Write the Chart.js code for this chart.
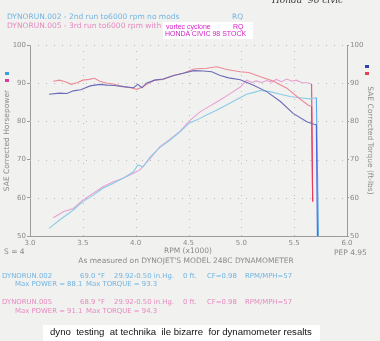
<!DOCTYPE html>
<html><head><meta charset="utf-8">
<script src="https://cdn.jsdelivr.net/npm/chart.js@4.4.0/dist/chart.umd.min.js"></script>
<style>
html,body{margin:0;padding:0;}
body{width:380px;height:341px;background:#f1f1ef;position:relative;overflow:hidden;font-family:"DejaVu Sans",sans-serif;}
canvas{position:absolute;left:0;top:0;}
.t{position:absolute;white-space:pre;font-size:7.5px;line-height:1;}
.s{font-size:6.9px}
.g{color:#8a8a8a}
.b{color:#72b4e2}
.p{color:#e68ac0}
.m{color:#d41ec8;font-family:"Liberation Sans",Arial,sans-serif;font-size:7px}
.sq{position:absolute;width:4px;height:3px;}
</style></head>
<body>
<canvas id="c" width="380" height="341"></canvas>

<div class="t" style="left:272px;top:-4px;font-family:'DejaVu Serif',serif;font-style:italic;font-size:9px;color:#3a3a3a">Honda  96 civic</div>
<div class="t b" style="left:7px;top:13px">DYNORUN.002 - 2nd run to6000 rpm no mods</div>
<div class="t b" style="left:232px;top:13px">RQ</div>
<div class="t p" style="left:7px;top:22px">DYNORUN.005 - 3rd run to6000 rpm with</div>
<div style="position:absolute;left:163px;top:22px;width:90px;height:17px;background:#fff"></div>
<div class="t m" style="left:166px;top:22.5px">vortec cyclone</div>
<div class="t m" style="left:233px;top:23px">RQ</div>
<div class="t m" style="left:165px;top:30.3px">HONDA CIVIC 98 STOCK</div>

<div class="sq" style="left:5px;top:72px;background:#3c9ee0"></div>
<div class="sq" style="left:5px;top:79px;background:#e03c9e"></div>
<div class="sq" style="left:365px;top:65px;background:#3440b0"></div>
<div class="sq" style="left:365px;top:72px;background:#e04452"></div>

<div class="t g" style="left:4px;top:248px">S = 4</div>
<div class="t g" style="left:188px;top:247px;transform:translateX(-50%)">RPM (x1000)</div>
<div class="t g" style="left:334px;top:249px">PEP 4.95</div>
<div class="t g" style="left:186px;top:256.5px;transform:translateX(-50%)">As measured on DYNOJET'S MODEL 248C DYNAMOMETER</div>

<div class="t s b" style="left:2px;top:273px">DYNORUN.002</div>
<div class="t s b" style="left:80px;top:273px">69.0 °F</div>
<div class="t s b" style="left:114px;top:273px">29.92-0.50 in.Hg.</div>
<div class="t s b" style="left:183px;top:273px">0 ft.</div>
<div class="t s b" style="left:207px;top:273px">CF=0.98</div>
<div class="t s b" style="left:245px;top:273px">RPM/MPH=57</div>
<div class="t s b" style="left:15px;top:280.5px">Max POWER = 88.1</div>
<div class="t s b" style="left:86px;top:280.5px">Max TORQUE = 93.3</div>

<div class="t s p" style="left:2px;top:299px">DYNORUN.005</div>
<div class="t s p" style="left:80px;top:299px">68.9 °F</div>
<div class="t s p" style="left:114px;top:299px">29.92-0.50 in.Hg.</div>
<div class="t s p" style="left:183px;top:299px">0 ft.</div>
<div class="t s p" style="left:207px;top:299px">CF=0.98</div>
<div class="t s p" style="left:245px;top:299px">RPM/MPH=57</div>
<div class="t s p" style="left:15px;top:307.5px">Max POWER = 91.1</div>
<div class="t s p" style="left:86px;top:307.5px">Max TORQUE = 94.3</div>

<div style="position:absolute;left:43px;top:325px;width:277px;height:16px;background:#fff"></div>
<div class="t" style="left:50px;top:327px;font-family:'Liberation Sans',Arial,sans-serif;font-size:9.6px;color:#111">dyno  testing  at technika  ile bizarre  for dynamometer resalts</div>

<script>
// ---- data ----
const xTicks = [3.0, 3.5, 4.0, 4.5, 5.0, 5.5, 6.0];
const yTicks = [50, 60, 70, 80, 90, 100];

// Run 002 horsepower (light blue)
const rpmHp002 = [3.18,3.28,3.41,3.50,3.60,3.69,3.79,3.88,3.98,4.02,4.07,4.14,4.23,4.32,4.42,4.51,4.58,4.67,4.77,4.86,4.96,5.05,5.12,5.18,5.27,5.37,5.46,5.55,5.65,5.71,5.73];
const hp002    = [52.0,54.2,56.8,59.0,60.7,62.5,63.8,65.1,66.8,68.6,68.1,70.8,73.2,75.0,77.3,79.6,80.4,81.7,83.0,84.3,85.8,87.1,87.6,88.1,87.8,87.1,86.5,86.2,85.9,86.2,50.0];

// Run 005 horsepower (pink)
const rpmHp005 = [3.22,3.32,3.41,3.50,3.60,3.69,3.79,3.88,3.98,4.04,4.14,4.23,4.32,4.42,4.51,4.61,4.70,4.80,4.89,4.99,5.05,5.10,5.14,5.19,5.24,5.29,5.33,5.38,5.43,5.48,5.52,5.57,5.62,5.665,5.675];
const hp005    = [54.8,56.4,57.2,59.4,61.2,62.9,64.2,65.1,66.4,67.3,70.4,73.4,75.2,77.4,80.2,82.5,84.0,85.6,87.2,89.0,90.8,90.2,90.6,90.2,90.7,90.3,91.0,90.4,91.1,90.5,90.8,90.2,90.1,89.8,59.0];

// Run 002 torque (dark blue)
const rpmTq002 = [3.18,3.28,3.35,3.41,3.48,3.57,3.66,3.73,3.80,3.88,3.98,4.02,4.06,4.10,4.18,4.26,4.36,4.45,4.55,4.64,4.72,4.80,4.88,4.99,5.11,5.24,5.37,5.49,5.62,5.68,5.71,5.72];
const tq002    = [87.1,87.4,87.3,88.0,88.3,89.3,89.7,89.5,89.4,89.1,88.8,89.7,88.8,90.0,90.8,91.1,92.0,92.6,93.3,93.2,93.0,92.0,91.4,90.9,89.5,87.8,85.2,82.1,79.9,79.3,79.1,50.0];

// Run 005 torque (red)
const rpmTq005 = [3.22,3.28,3.34,3.39,3.45,3.50,3.56,3.61,3.66,3.73,3.79,3.85,3.95,4.01,4.07,4.12,4.18,4.26,4.36,4.45,4.55,4.67,4.77,4.86,4.99,5.07,5.18,5.30,5.43,5.55,5.63,5.665,5.675];
const tq005    = [90.5,90.8,90.3,89.7,90.2,90.8,91.0,91.3,90.5,90.0,89.8,89.3,88.8,88.4,89.1,90.0,90.8,91.0,92.0,92.6,93.7,93.9,94.3,93.6,93.0,92.8,91.7,90.6,88.7,86.0,84.3,83.9,59.0];

function pts(xs, ys){ return xs.map((x,i)=>({x:x, y:ys[i]})); }
function ds(xs, ys, color, dropColor, axis){
  const last = xs.length - 1;
  return {
    data: pts(xs, ys), yAxisID: axis, borderColor: color, borderWidth: 1.1,
    pointRadius: 0, tension: 0, fill: false,
    segment: { borderColor: c => c.p1DataIndex === last ? dropColor : color }
  };
}

// dotted grid drawn from the library's own scales
const dotGrid = {
  id: 'dotGrid',
  beforeDatasetsDraw(chart) {
    const {ctx, chartArea: a, scales} = chart;
    ctx.save();
    ctx.strokeStyle = '#bcbcbc';
    ctx.lineWidth = 1;
    ctx.setLineDash([1, 7]);
    xTicks.slice(1, -1).forEach(v => {
      const px = Math.round(scales.x.getPixelForValue(v)) + 0.5;
      ctx.beginPath(); ctx.moveTo(px, a.bottom); ctx.lineTo(px, a.top); ctx.stroke();
    });
    yTicks.slice(1).forEach(v => {
      const py = Math.round(scales.y.getPixelForValue(v)) + 0.5;
      ctx.beginPath(); ctx.moveTo(a.left, py); ctx.lineTo(a.right, py); ctx.stroke();
    });
    ctx.restore();
  }
};

const tickFont = {family: "DejaVu Sans", size: 7};
const tickColor = '#8a8a8a';

new Chart(document.getElementById('c'), {
  type: 'line',
  data: {
    datasets: [
      ds(rpmTq002, tq002, '#6a6cb8', '#4466dd', 'y1'),
      ds(rpmTq005, tq005, '#ec8a96', '#e83a5c', 'y1'),
      ds(rpmHp002, hp002, '#8ccbe8', '#5aa8ec', 'y'),
      ds(rpmHp005, hp005, '#e6a0d4', '#e84a7a', 'y')
    ]
  },
  plugins: [dotGrid],
  options: {
    responsive: false, animation: false,
    layout: {padding: {top: 45, left: 0, right: 0, bottom: 0}},
    plugins: {legend: {display: false}, tooltip: {enabled: false}},
    scales: {
      x: {
        type: 'linear', min: 3, max: 6,
        afterBuildTicks: s => { s.ticks = xTicks.map(v => ({value: v})); },
        afterFit: s => { s.height = 105; },
        ticks: {font: tickFont, color: tickColor, padding: 3, maxRotation: 0, autoSkip: false,
                callback: v => Number(v).toFixed(1)},
        grid: {drawOnChartArea: false, drawTicks: false},
        border: {color: '#9c9c9c', width: 1}
      },
      y: {
        position: 'left', min: 50, max: 100,
        afterBuildTicks: s => { s.ticks = yTicks.map(v => ({value: v})); },
        afterFit: s => { s.width = 30; },
        ticks: {font: tickFont, color: tickColor, padding: 1},
        grid: {drawOnChartArea: false, tickLength: 3, tickColor: '#9c9c9c'},
        border: {color: '#9c9c9c', width: 1},
        title: {display: true, text: 'SAE Corrected Horsepower', color: tickColor,
                font: {family: "DejaVu Sans", size: 7.5}, padding: {top: 2.5, bottom: 0}}
      },
      y1: {
        position: 'right', min: 50, max: 100,
        afterBuildTicks: s => { s.ticks = yTicks.map(v => ({value: v})); },
        afterFit: s => { s.width = 33; },
        ticks: {font: tickFont, color: tickColor, padding: 1},
        grid: {drawOnChartArea: false, tickLength: 2, tickColor: '#9c9c9c'},
        border: {color: '#9c9c9c', width: 1},
        title: {display: true, text: 'SAE Corrected Torque (ft-lbs)', color: tickColor,
                font: {family: "DejaVu Sans", size: 7.5}, padding: {top: 6, bottom: 0}}
      }
    }
  }
});
</script>
</body></html>
